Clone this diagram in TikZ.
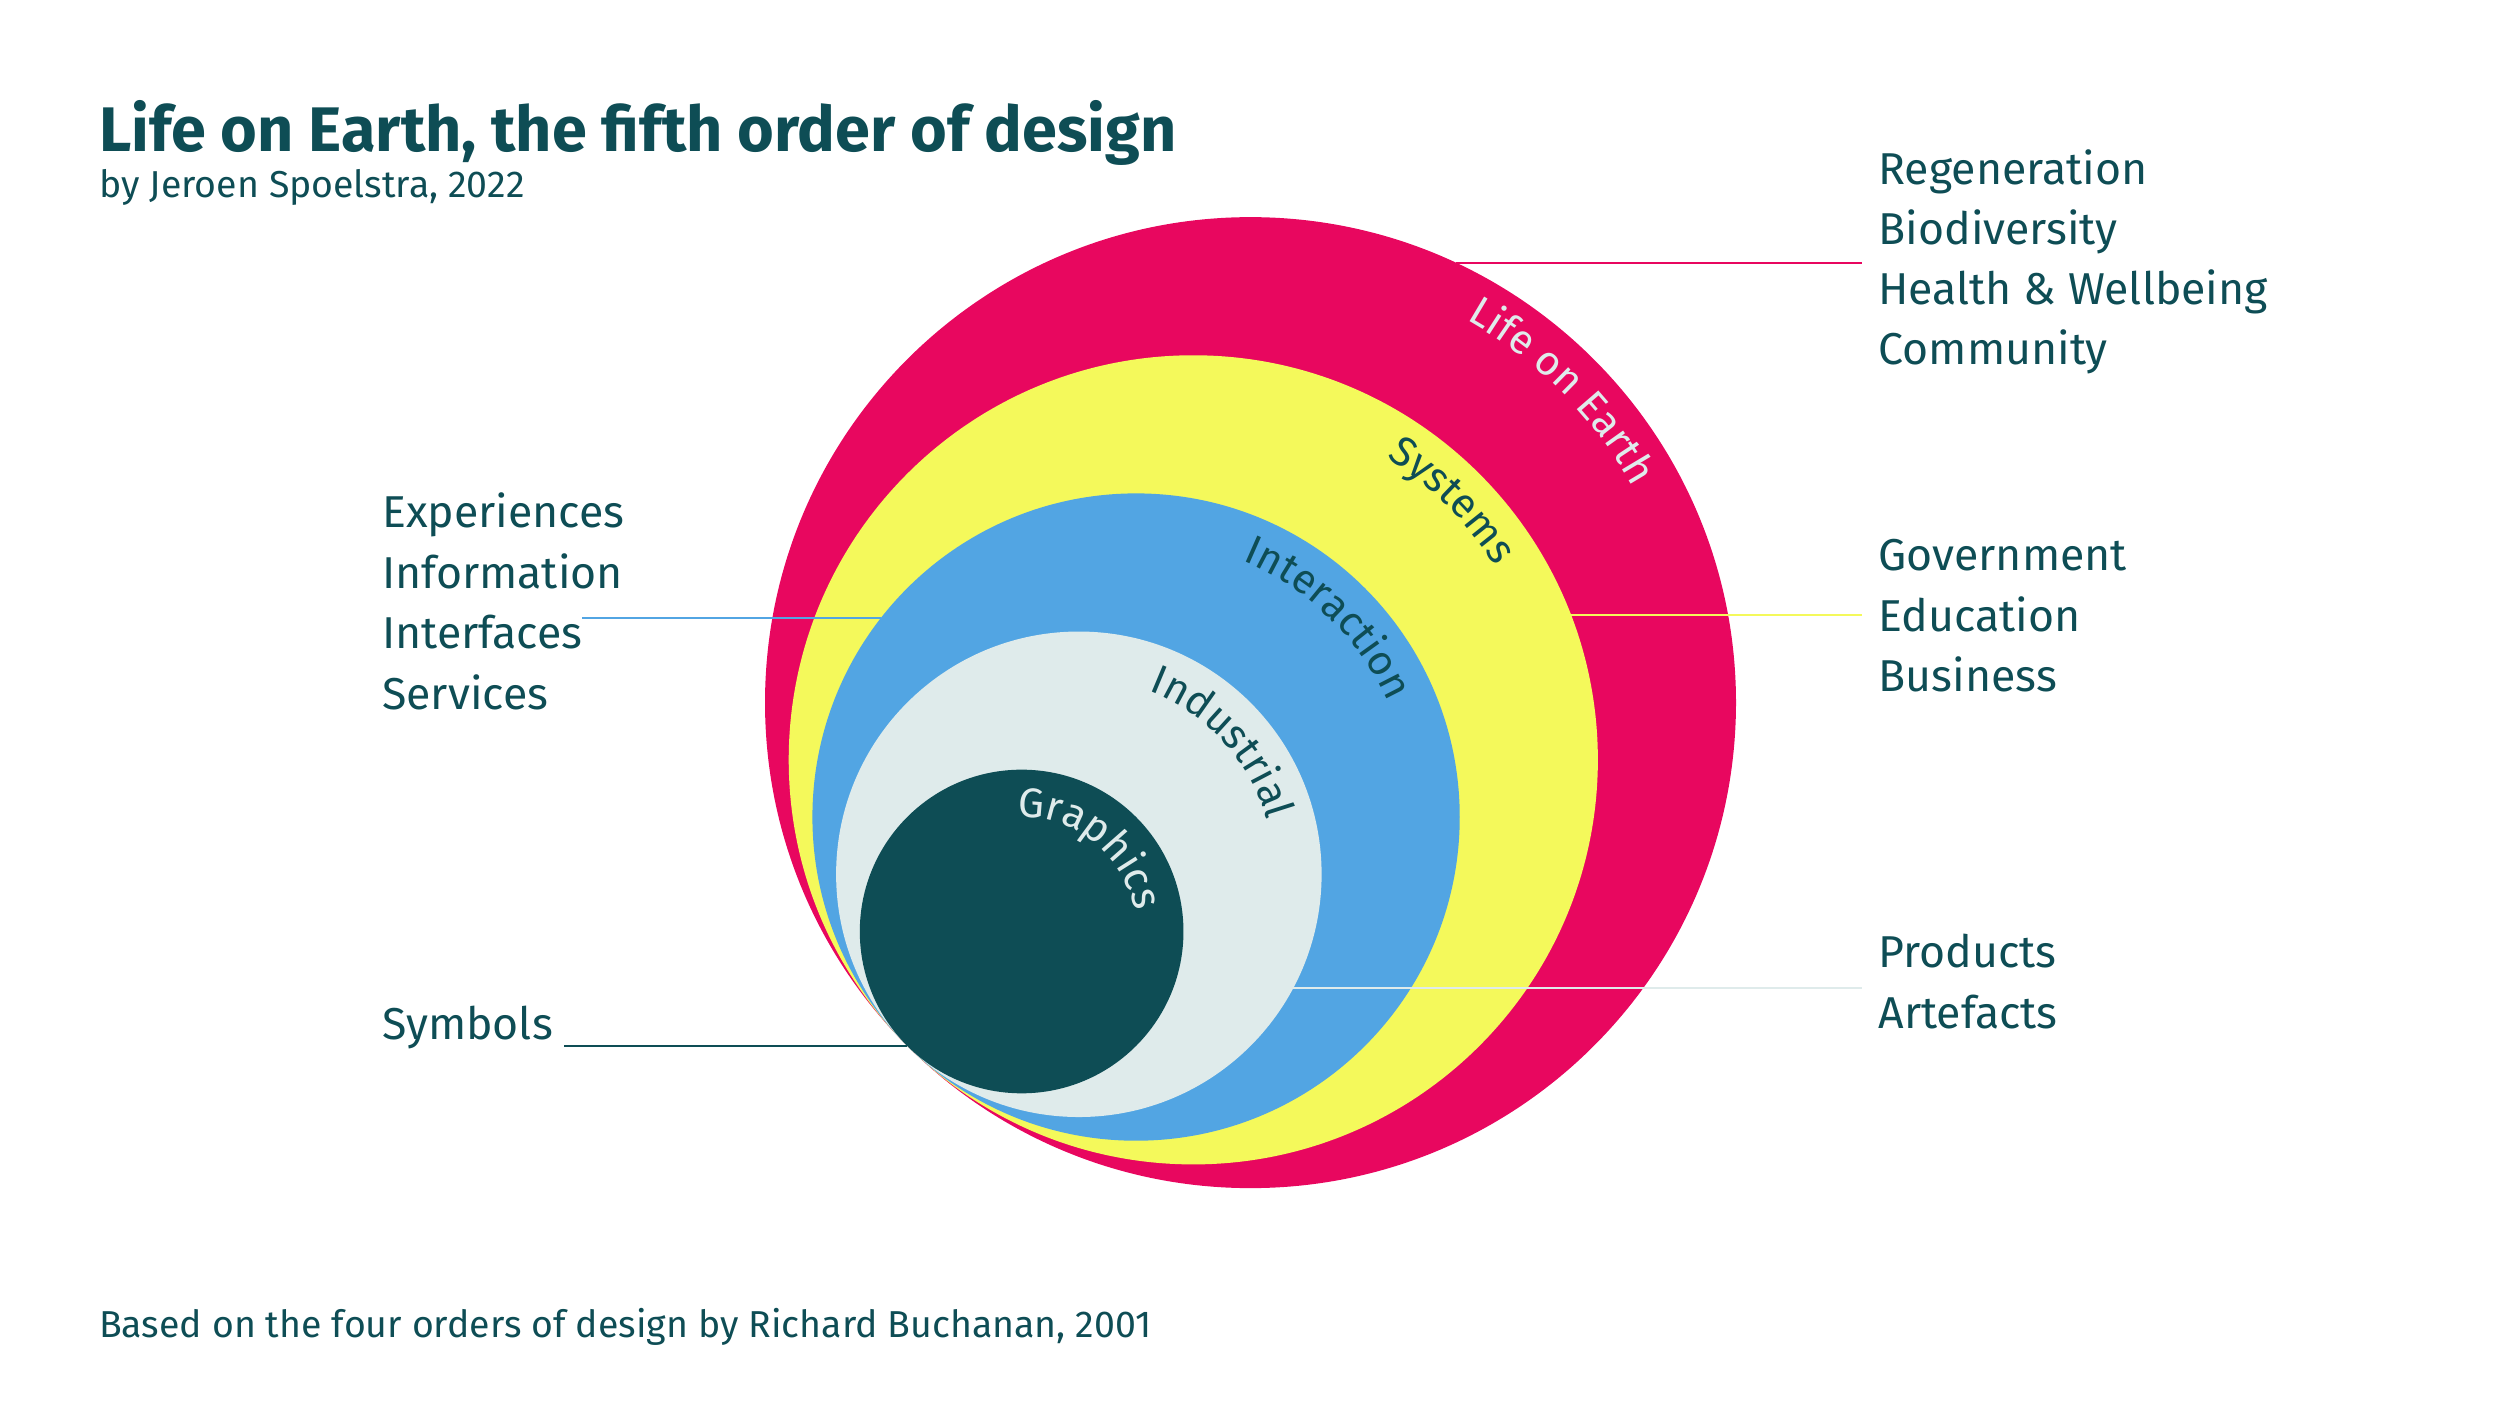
\documentclass[tikz,border=0pt]{standalone}
\usepackage{fontspec}
\setmainfont{Fira Sans}
\usetikzlibrary{positioning, decorations.text}
\definecolor{lifered}{HTML}{E8075F}
\definecolor{sysyellow}{HTML}{F4F95B}
\definecolor{interblue}{HTML}{52A5E3}
\definecolor{indgrey}{HTML}{DFEBEB}
\definecolor{graphteal}{HTML}{0E4D55}
\tikzstyle{ring} = [circle, inner sep=0, outer sep=0, draw=none]
\tikzstyle{link} = [line width=1.3pt]
\tikzstyle{list} = [anchor=base west, align=left, inner ysep=0, inner xsep=10pt, text=graphteal, font=\fontsize{28}{38}\selectfont]
\tikzstyle{bandtext} = [decorate, decoration={text along path, text align=center}]
\newcommand{\ringfont}{\fontsize{26}{30}\selectfont}

\begin{document}
\begin{tikzpicture}[x=1pt, y=1pt]
\useasboundingbox (0,0) rectangle (1568,-882);
\coordinate (touch) at (569,-656);
\node[ring, fill=lifered, minimum size=609pt] (earth) at ([shift={(45:304.5)}]touch) {};
\node[ring, fill=sysyellow, minimum size=507.5pt] (systems) at ([shift={(45:253.75)}]touch) {};
\node[ring, fill=interblue, minimum size=406pt] (interact) at ([shift={(45:203)}]touch) {};
\node[ring, fill=indgrey, minimum size=304.5pt] (industry) at ([shift={(45:152.25)}]touch) {};
\node[ring, fill=graphteal, minimum size=203pt] (graphic) at ([shift={(45:101.5)}]touch) {};
\path[bandtext, decoration={text={|\ringfont\color{indgrey}|Life on Earth}}] (earth.center) ++(115:275.5) arc[start angle=115, end angle=-25, radius=275.5];
\path[bandtext, decoration={text={|\ringfont\color{graphteal}|Systems}}] (systems.center) ++(115:225) arc[start angle=115, end angle=-25, radius=225];
\path[bandtext, decoration={text={|\ringfont\color{graphteal}|Interaction}}] (interact.center) ++(116:174) arc[start angle=116, end angle=-24, radius=174];
\path[bandtext, decoration={text={|\ringfont\color{graphteal}|Industrial}}] (industry.center) ++(112:123) arc[start angle=112, end angle=-27, radius=123];
\path[bandtext, decoration={text={|\ringfont\color{indgrey}|Graphics}}] (graphic.center) ++(121:72) arc[start angle=121, end angle=-19, radius=72];

\node[anchor=base west, inner sep=0, text=graphteal, font=\fontsize{39.5}{42}\selectfont\bfseries] (title) at (62,-95) {Life on Earth, the fifth order of design};
\node[anchor=base west, inner sep=0, text=graphteal, font=\fontsize{23.5}{26}\selectfont] (byline) at (62,-124) {by Jeroen Spoelstra, 2022};
\node[anchor=base west, inner sep=0, text=graphteal, font=\fontsize{23.5}{26}\selectfont] (source) at (62,-839) {Based on the four orders of design by Richard Buchanan, 2001};

\node[list, font=\fontsize{28}{37.5}\selectfont] (regen) at (1168,-228.5) {Regeneration\\Biodiversity\\Health \& Wellbeing\\Community};
\node[list] (govt) at (1168,-434) {Government\\Education\\Business};
\node[list] (prod) at (1168,-645) {Products\\Artefacts};
\node[list] (exper) at (229.5,-445) {Experiences\\Information\\Interfaces\\Services};
\node[list, inner xsep=7pt] (symb) at (232.5,-652) {Symbols};
\coordinate (ixend) at (365,-386);

\draw[link, draw=lifered] (earth.65) -- (earth.65 -| regen.west);
\draw[link, draw=sysyellow] (systems.21) -- (systems.21 -| govt.west);
\draw[link, draw=interblue] (interact.142) -- (interact.142 -| ixend);
\draw[link, draw=indgrey] (industry.332) -- (industry.332 -| prod.west);
\draw[link, draw=graphteal] (graphic.225) -- (graphic.225 -| symb.east);
\end{tikzpicture}
\end{document}
